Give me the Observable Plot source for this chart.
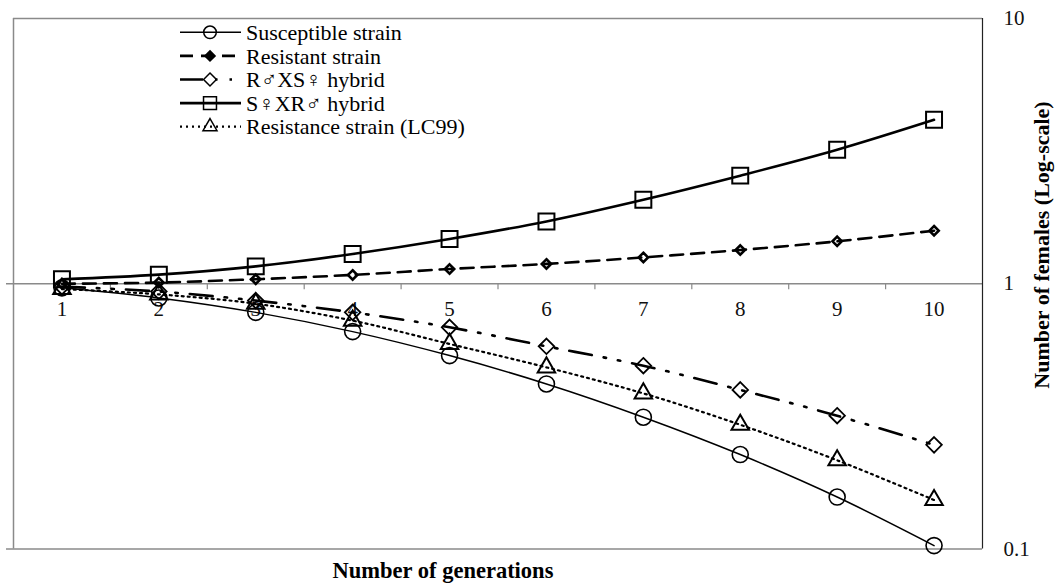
<!DOCTYPE html>
<html><head><meta charset="utf-8">
<script src="https://cdn.jsdelivr.net/npm/d3@7"></script>
<script src="https://cdn.jsdelivr.net/npm/@observablehq/plot@0.6"></script>
<style>
body{margin:0;background:#fff}
#chart{position:relative;width:1055px;height:583px}
</style>
</head><body><div id="chart"></div>
<script>
// ---- data ----
const generations = [1, 2, 3, 4, 5, 6, 7, 8, 9, 10];
const susceptible = [0.965, 0.884, 0.78, 0.66, 0.536, 0.419, 0.314, 0.227, 0.157, 0.103];
const resistant   = [1.0, 1.01, 1.04, 1.08, 1.137, 1.188, 1.257, 1.34, 1.445, 1.585];
const hybridRS    = [0.975, 0.935, 0.864, 0.78, 0.685, 0.581, 0.491, 0.398, 0.318, 0.247];
const hybridSR    = [1.039, 1.082, 1.163, 1.295, 1.475, 1.718, 2.074, 2.556, 3.2, 4.15];
const lc99        = [0.955, 0.912, 0.841, 0.726, 0.593, 0.484, 0.386, 0.294, 0.216, 0.153];
const seriesNames = ["Susceptible strain", "Resistant strain", "R♂XS♀ hybrid", "S♀XR♂ hybrid", "Resistance strain (LC99)"];
const yTicks = [0.1, 1, 10];
const xTitle = "Number of generations";
const yTitle = "Number of females (Log-scale)";

const serif = "'Liberation Serif', 'Times New Roman', serif";
const gray = "#8a8a8a";

const styles = [
  {vals: susceptible, sw: 1.5, dash: null, sym: "circle", r: 8, dsw: 1.6, lr: 6.3, lsym: d3.symbolCircle, lfill: "none"},
  {vals: resistant, sw: 2.6, dash: "13,8", sym: "diamond2", r: 4.2, dsw: 2.6, lr: 4.6, lsym: d3.symbolDiamond2, lfill: "#000"},
  {vals: hybridRS, sw: 2.6, dash: "23,12,2.5,12,2.5,12", sym: "diamond2", r: 7, dsw: 1.8, lr: 5.8, lsym: d3.symbolDiamond2, lfill: "none"},
  {vals: hybridSR, sw: 2.6, dash: null, sym: "square", r: 9, dsw: 2, lr: 7.3, lsym: d3.symbolSquare, lfill: "none"},
  {vals: lc99, sw: 2.2, dash: "2,4", sym: "triangle", r: 6.5, dsw: 2, lr: 5.2, lsym: d3.symbolTriangle, lfill: "none"}
];

const boundaries = generations.slice(0, -1).map(g => g + 0.5);

const marks = [
  Plot.ruleY([yTicks[0], yTicks[2]], {stroke: gray, strokeWidth: 1.5}),
  Plot.ruleY([yTicks[1]], {stroke: gray, strokeWidth: 1.5}),
  Plot.ruleX([0.5], {stroke: gray, strokeWidth: 1.5}),
  Plot.ruleX([10.5], {stroke: "#222", strokeWidth: 1.2}),
  Plot.ruleX(boundaries, {x: d => d, y1: () => 1, y2: () => 1, insetBottom: -6, stroke: gray, strokeWidth: 1.2}),
  Plot.axisY({anchor: "left", ticks: [yTicks[0], yTicks[1]], tickSize: 7, tickFormat: () => "", stroke: gray, strokeWidth: 1.5, label: null}),
  Plot.axisY({anchor: "right", ticks: yTicks, tickSize: 0, tickPadding: 21, tickFormat: d => String(d), textAnchor: "start", fontSize: 21, label: null, fill: "#111"}),
  Plot.text(generations, {x: d => d, y: () => 1, dy: 26, text: d => String(d), fontSize: 21, fill: "#111"})
];
for (const s of styles) {
  marks.push(Plot.line(generations, {x: d => d, y: (d, i) => s.vals[i], curve: "catmull-rom", stroke: "#000", strokeWidth: s.sw, strokeDasharray: s.dash}));
}
for (const s of styles) {
  marks.push(Plot.dot(generations, {x: d => d, y: (d, i) => s.vals[i], symbol: s.sym, r: s.r, stroke: "#000", strokeWidth: s.dsw, fill: "none"}));
}

const chart = Plot.plot({
  width: 1055, height: 583,
  marginLeft: 13, marginRight: 73, marginTop: 18, marginBottom: 34.5,
  x: {type: "linear", domain: [0.5, 10.5], axis: null},
  y: {type: "log", domain: [0.1, 10]},
  style: {fontFamily: serif, fontSize: "21px", color: "#000", background: "#fff", overflow: "visible"},
  marks
});

const svg = d3.select(chart);
// axis titles
svg.append("text").attr("x", 443).attr("y", 578).attr("text-anchor", "middle")
  .attr("font-family", serif).attr("font-weight", "bold").attr("font-size", 22.5).attr("fill", "#000").text(xTitle);
svg.append("text").attr("transform", "translate(1049,245) rotate(-90)").attr("text-anchor", "middle")
  .attr("font-family", serif).attr("font-weight", "bold").attr("font-size", 22).attr("fill", "#000").text(yTitle);

// legend
const lg = svg.append("g").attr("text-anchor", "start");
styles.forEach((s, i) => {
  const cy = 32.3 + i * 23.6;
  lg.append("line").attr("x1", 180).attr("x2", 241).attr("y1", cy).attr("y2", cy)
    .attr("stroke", "#000").attr("stroke-width", s.sw).attr("stroke-dasharray", s.dash);
  lg.append("path").attr("transform", `translate(210,${cy})`)
    .attr("d", d3.symbol(s.lsym, Math.PI * s.lr * s.lr)())
    .attr("fill", s.lfill).attr("stroke", "#000").attr("stroke-width", 1.5);
  lg.append("text").attr("x", 246).attr("y", cy).attr("dy", "0.35em").attr("text-anchor", "start")
    .attr("font-family", serif).attr("font-size", 22).attr("fill", "#000").text(seriesNames[i]);
});

document.getElementById("chart").appendChild(chart);
</script>
</body></html>
